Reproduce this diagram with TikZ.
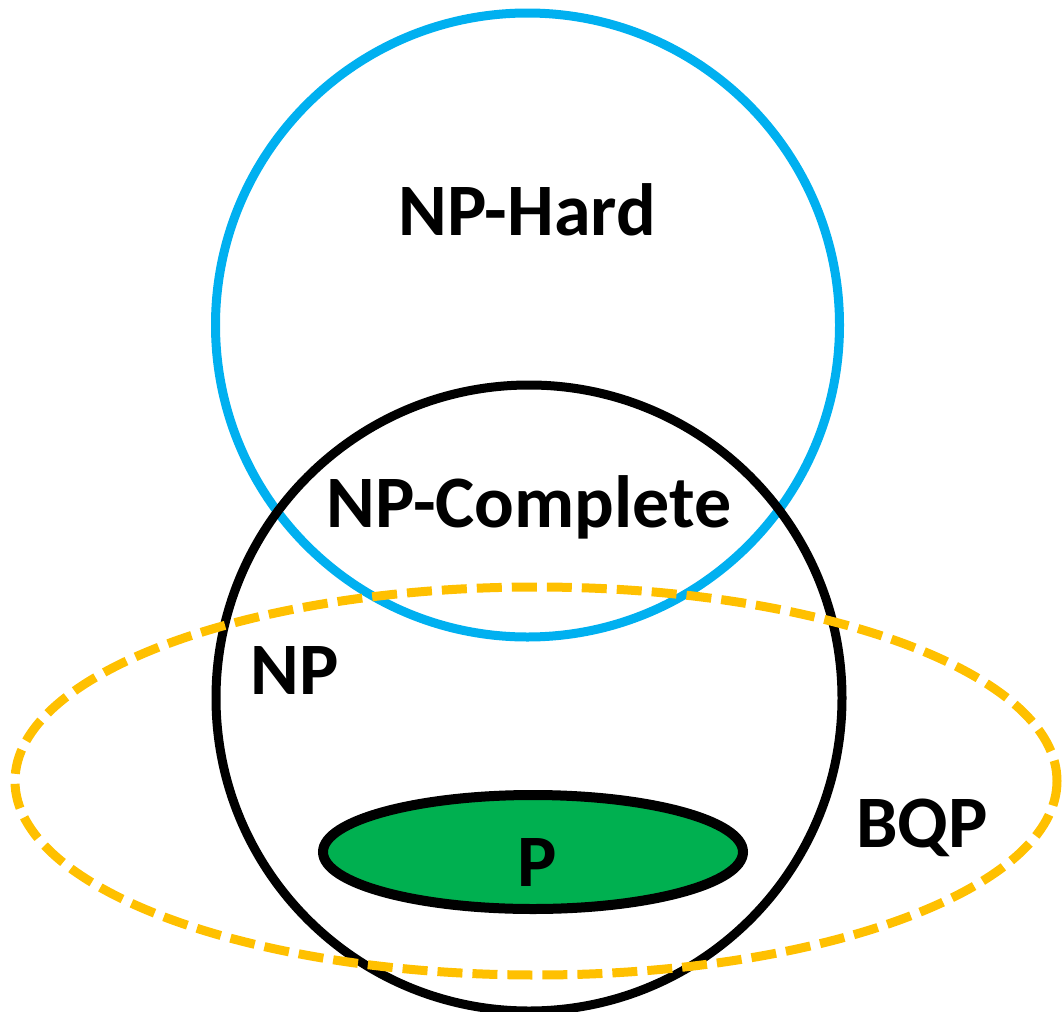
\documentclass[tikz,border=0pt]{standalone}
\usepackage{fontspec}
\setmainfont{Carlito}
\definecolor{hardblue}{HTML}{00B0F0}
\definecolor{bqporange}{HTML}{FFC000}
\definecolor{pgreen}{HTML}{00B050}
\begin{document}
\begin{tikzpicture}[x=1pt,y=-1pt,
  lbl/.style={font=\fontsize{74}{88}\selectfont\bfseries, inner sep=0pt, anchor=center},
  ring/.style={line width=9pt}]
\useasboundingbox (0,0) rectangle (1063,1012);
\draw[ring, hardblue] (527.5,325) circle [radius=312];
\draw[ring, black] (529,698) circle [radius=313];
\draw[line width=10pt, black, fill=pgreen] (533,852) ellipse [x radius=210, y radius=57];
\draw[line width=9pt, bqporange, dash pattern=on 25pt off 10pt] (536,781) ellipse [x radius=521, y radius=194];
\node[lbl] (nphard) at (527,210) {NP-Hard};
\node[lbl] (npc) at (529,507) {NP-Complete};
\node[lbl] (np) at (295,670) {NP};
\node[lbl] (bqp) at (922,828) {BQP};
\node[lbl] (p) at (537,862) {P};
\end{tikzpicture}
\end{document}
